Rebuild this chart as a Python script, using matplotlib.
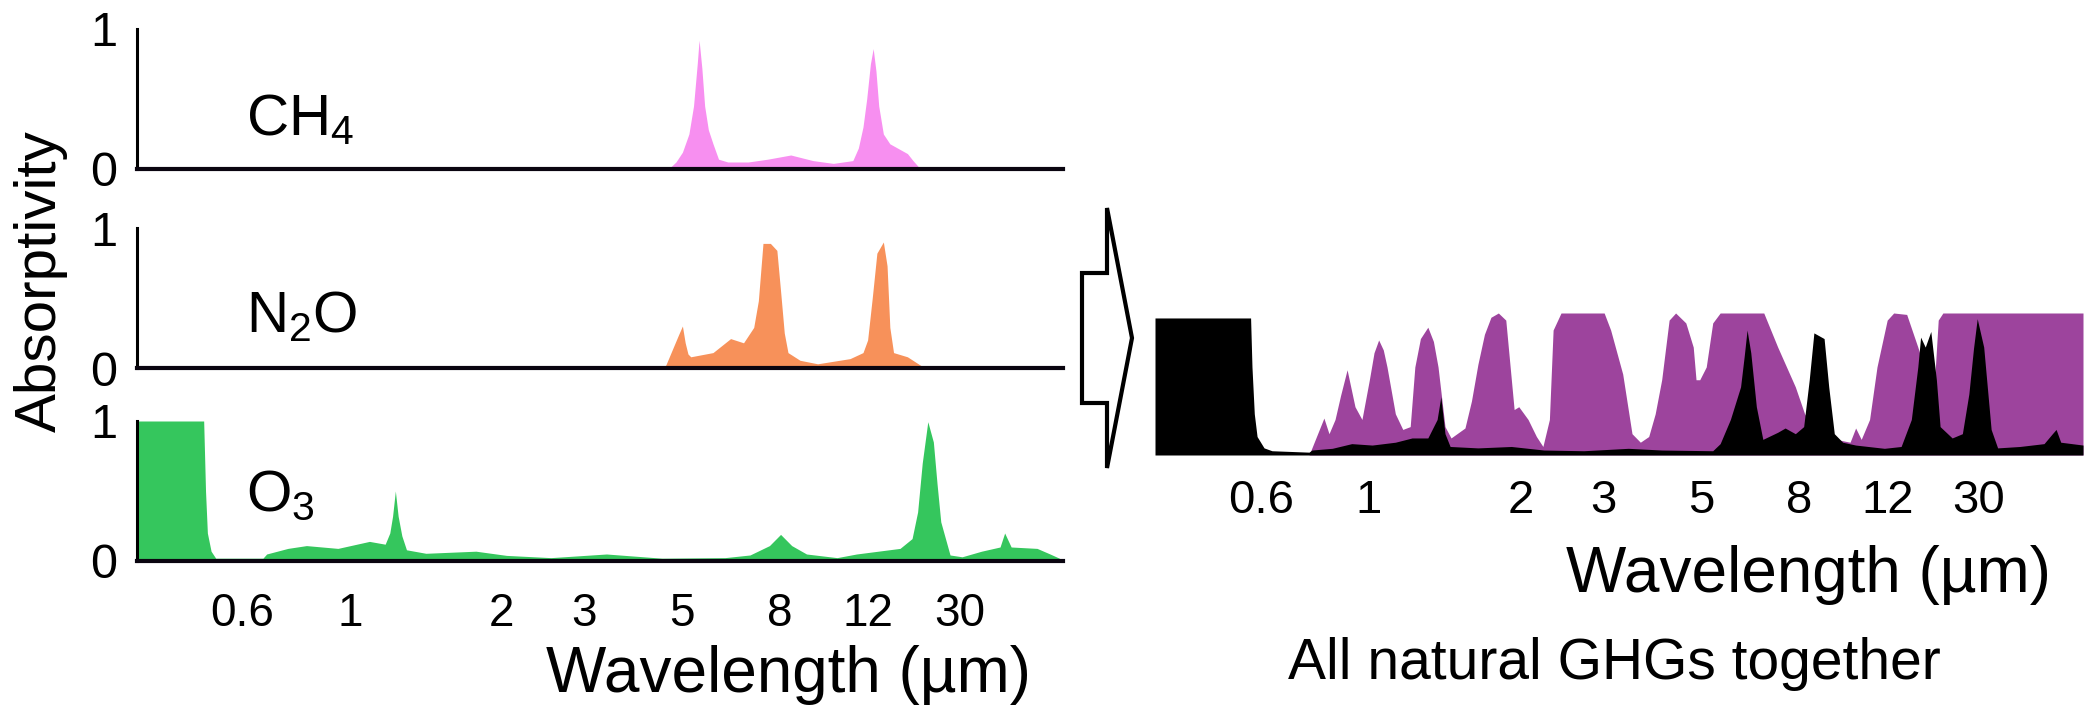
import numpy as np
import matplotlib
matplotlib.use("Agg")
import matplotlib.pyplot as plt
from matplotlib.patches import Polygon

plt.rcParams['font.family'] = ['Liberation Sans', 'DejaVu Sans']
plt.rcParams['mathtext.fontset'] = 'custom'
plt.rcParams['mathtext.rm'] = 'Liberation Sans'
plt.rcParams['mathtext.it'] = 'Liberation Sans:italic'
plt.rcParams['mathtext.bf'] = 'Liberation Sans:bold'

# ---------------- data (x in schematic axis units 0..100) ----------------
TICK_POS = [11.4, 23.0, 39.4, 48.3, 58.9, 69.4, 78.9, 88.8]
TICK_LABELS = ['0.6', '1', '2', '3', '5', '8', '12', '30']

CH4_X = [0, 57.4, 58.2, 58.9, 59.6, 60.1, 60.5, 60.7, 61.0, 61.3, 61.7, 62.2, 62.8, 63.8,
         66.0, 68.1, 70.6, 73.0, 75.2, 77.3, 77.9, 78.4, 78.8, 79.2, 79.5, 79.8, 80.1,
         80.6, 81.3, 83.2, 83.8, 84.6, 100]
CH4_Y = [0, 0.0, 0.05, 0.12, 0.25, 0.45, 0.75, 0.92, 0.72, 0.45, 0.28, 0.18, 0.07, 0.05,
         0.05, 0.07, 0.10, 0.06, 0.04, 0.06, 0.15, 0.30, 0.50, 0.75, 0.86, 0.70, 0.45,
         0.25, 0.18, 0.11, 0.06, 0.0, 0]

N2O_X = [0, 56.6, 57.1, 57.8, 58.5, 58.9, 59.2, 59.5, 59.8, 62.2, 64.1, 65.5, 66.6, 67.1,
         67.6, 68.4, 69.1, 69.5, 69.9, 70.3, 71.6, 73.5, 77.0, 78.4, 78.9, 79.4, 79.9,
         80.6, 81.0, 81.3, 81.7, 83.2, 84.6, 85.1, 100]
N2O_Y = [0, 0.0, 0.02, 0.13, 0.24, 0.30, 0.18, 0.10, 0.08, 0.11, 0.21, 0.18, 0.29, 0.48,
         0.89, 0.89, 0.84, 0.55, 0.25, 0.11, 0.055, 0.03, 0.067, 0.11, 0.20, 0.50, 0.82,
         0.90, 0.73, 0.29, 0.11, 0.08, 0.02, 0.0, 0]

O3_X = [0.0, 7.2, 7.4, 7.6, 8.0, 8.5, 13.6, 14.0, 16.3, 18.3, 21.7, 25.1, 26.8, 27.3,
        27.6, 27.9, 28.2, 28.6, 29.1, 31.2, 36.6, 39.9, 44.7, 50.7, 56.7, 63.5, 66.2,
        68.3, 69.5, 70.7, 72.3, 75.6, 77.7, 82.4, 83.7, 84.3, 84.8, 85.4, 86.0, 86.4,
        86.8, 87.8, 89.1, 91.2, 93.2, 93.7, 94.4, 97.2, 98.6, 99.6, 100.0]
O3_Y = [1.0, 1.0, 0.5, 0.2, 0.07, 0.02, 0.02, 0.05, 0.09, 0.11, 0.09, 0.14, 0.12, 0.20,
        0.32, 0.50, 0.32, 0.18, 0.08, 0.055, 0.07, 0.04, 0.024, 0.05, 0.02, 0.024, 0.043,
        0.11, 0.19, 0.11, 0.05, 0.024, 0.05, 0.09, 0.16, 0.35, 0.70, 0.995, 0.85, 0.55,
        0.28, 0.043, 0.03, 0.07, 0.10, 0.20, 0.10, 0.09, 0.05, 0.02, 0.0]

ALL_PURPLE_X = [0, 16.6, 18.2, 18.75, 19.4, 20.0, 20.7, 21.55, 22.3, 23.1, 23.6, 24.1, 24.6,
                25.0, 25.9, 26.7, 27.5, 28.0, 28.6, 29.4, 30.0, 30.5, 31.25, 31.9, 33.4,
                34.1, 34.8, 35.5, 36.2, 37.0, 37.8, 38.4, 38.7, 39.2, 40.2, 41.1, 41.8,
                42.5, 42.9, 43.75, 48.4, 49.1, 50.4, 51.4, 52.3, 53.2, 53.9, 54.6, 55.4,
                56.1, 57.2, 58.0, 58.3, 58.7, 59.4, 60.1, 60.9, 65.6, 67.1, 69.0, 70.0,
                71.55, 73.4, 74.9, 75.5, 76.1, 77.0, 77.8, 78.9, 79.6, 81.0, 82.2, 83.3,
                84.05, 84.4, 84.9, 100]
ALL_PURPLE_Y = [0, 0.0, 0.26, 0.15, 0.25, 0.42, 0.60, 0.34, 0.25, 0.53, 0.72, 0.81, 0.74,
                0.62, 0.29, 0.18, 0.20, 0.62, 0.82, 0.90, 0.80, 0.62, 0.20, 0.12, 0.19,
                0.38, 0.64, 0.85, 0.97, 1.0, 0.95, 0.53, 0.32, 0.34, 0.25, 0.13, 0.06,
                0.25, 0.88, 1.0, 1.0, 0.88, 0.57, 0.15, 0.09, 0.13, 0.29, 0.53, 0.95,
                1.0, 0.93, 0.76, 0.53, 0.53, 0.62, 0.93, 1.0, 1.0, 0.76, 0.48, 0.29,
                0.13, 0.11, 0.09, 0.19, 0.11, 0.25, 0.62, 0.95, 1.0, 0.99, 0.76, 0.53,
                0.57, 0.95, 1.0, 1.0]

ALL_BLACK_X = [0, 10.3, 10.45, 10.7, 11.0, 11.75, 12.6, 16.6, 16.9, 19.1, 21.2, 23.4, 25.9,
               27.7, 29.4, 30.4, 30.8, 31.25, 31.8, 34.8, 38.4, 41.9, 46.2, 51.0, 54.6,
               60.1, 60.9, 62.0, 63.1, 63.5, 63.8, 64.2, 64.8, 65.5, 67.1, 67.9, 69.0,
               69.9, 70.5, 71.0, 72.1, 72.6, 73.2, 74.1, 75.5, 78.6, 80.4, 81.5, 82.2,
               82.5, 83.0, 83.6, 84.2, 84.6, 85.9, 87.0, 87.7, 88.2, 88.6, 89.3, 90.1,
               90.8, 93.2, 95.8, 96.7, 97.1, 97.6, 100]
ALL_BLACK_Y = [0.965, 0.965, 0.62, 0.29, 0.13, 0.05, 0.03, 0.02, 0.035, 0.047, 0.08, 0.07,
               0.09, 0.12, 0.12, 0.25, 0.41, 0.15, 0.06, 0.05, 0.06, 0.035, 0.03, 0.047,
               0.035, 0.03, 0.08, 0.25, 0.48, 0.70, 0.88, 0.72, 0.34, 0.11, 0.16, 0.19,
               0.15, 0.20, 0.53, 0.86, 0.82, 0.48, 0.15, 0.09, 0.07, 0.047, 0.06, 0.25,
               0.62, 0.83, 0.76, 0.87, 0.53, 0.20, 0.12, 0.15, 0.43, 0.75, 0.96, 0.76,
               0.18, 0.05, 0.06, 0.08, 0.15, 0.18, 0.09, 0.07]

GASES = ['CH$_\\mathregular{4}$', 'N$_\\mathregular{2}$O', 'O$_\\mathregular{3}$']
GAS_COLORS = ['#f78ff0', '#f7915a', '#35c65d']
PURPLE = '#9d449d'

# ---------------- layout ----------------
W, H = 2094, 712
fig = plt.figure(figsize=(W / 100, H / 100), dpi=100)


def frame(x0, y_top, w, h):
    return [x0 / W, 1 - (y_top + h) / H, w / W, h / H]


left_tops = [29, 228, 421]
gas_label_base = [135, 332, 511]
series = [(CH4_X, CH4_Y), (N2O_X, N2O_Y), (O3_X, O3_Y)]

for i, ((xs, ys), top) in enumerate(zip(series, left_tops)):
    ax = fig.add_axes(frame(137, top, 926, 140))
    ax.fill_between(xs, ys, 0, color=GAS_COLORS[i], lw=0)
    ax.set_xlim(0, 100)
    ax.set_ylim(0, 1)
    for s in ['top', 'right']:
        ax.spines[s].set_visible(False)
    ax.spines['left'].set_linewidth(2.2)
    ax.spines['bottom'].set_linewidth(3.0)
    ax.spines['left'].set_color('black')
    ax.spines['bottom'].set_color('#0a0510')
    ax.set_yticks([0, 1])
    ax.set_yticklabels(['0', '1'])
    ax.tick_params(axis='y', length=0, pad=14, labelsize=35)
    ax.set_xticks(TICK_POS)
    if i == 2:
        ax.set_xticklabels(TICK_LABELS)
        ax.tick_params(axis='x', length=0, pad=22, labelsize=33)
    else:
        ax.set_xticklabels([])
        ax.tick_params(axis='x', length=0)
    fig.text(246 / W, 1 - gas_label_base[i] / H, GASES[i], fontsize=42,
             ha='left', va='baseline')

fig.text(546 / W, 1 - 692 / H, 'Wavelength (\u00b5m)', fontsize=46,
         ha='left', va='baseline')
fig.text(41 / W, 1 - 281 / H, 'Absorptivity', fontsize=42, rotation=90,
         ha='center', va='center')

# right panel
axr = fig.add_axes(frame(1155, 313, 928, 142))
axr.fill_between(ALL_PURPLE_X, ALL_PURPLE_Y, 0, color=PURPLE, lw=0, zorder=1)
axr.fill_between(ALL_BLACK_X, ALL_BLACK_Y, 0, color='black', lw=0, zorder=2)
axr.set_xlim(0, 100)
axr.set_ylim(0, 1)
for s in axr.spines.values():
    s.set_visible(False)
axr.set_yticks([])
axr.set_xticks(TICK_POS)
axr.set_xticklabels(TICK_LABELS)
axr.tick_params(axis='x', length=0, pad=17, labelsize=34)

fig.text(1566 / W, 1 - 592 / H, 'Wavelength (\u00b5m)', fontsize=46,
         ha='left', va='baseline')
fig.text(1288 / W, 1 - 679 / H, 'All natural GHGs together', fontsize=41,
         ha='left', va='baseline')

# block arrow
ov = fig.add_axes([0, 0, 1, 1], zorder=5)
ov.set_xlim(0, W)
ov.set_ylim(H, 0)
ov.axis('off')
ov.patch.set_alpha(0)
arrow_pts = [(1082, 273), (1107, 273), (1107, 208), (1132, 338),
             (1107, 468), (1107, 403), (1082, 403)]
ov.add_patch(Polygon(arrow_pts, closed=True, facecolor='white',
                     edgecolor='black', lw=3, joinstyle='miter'))

fig.savefig('out.png', dpi=100)
